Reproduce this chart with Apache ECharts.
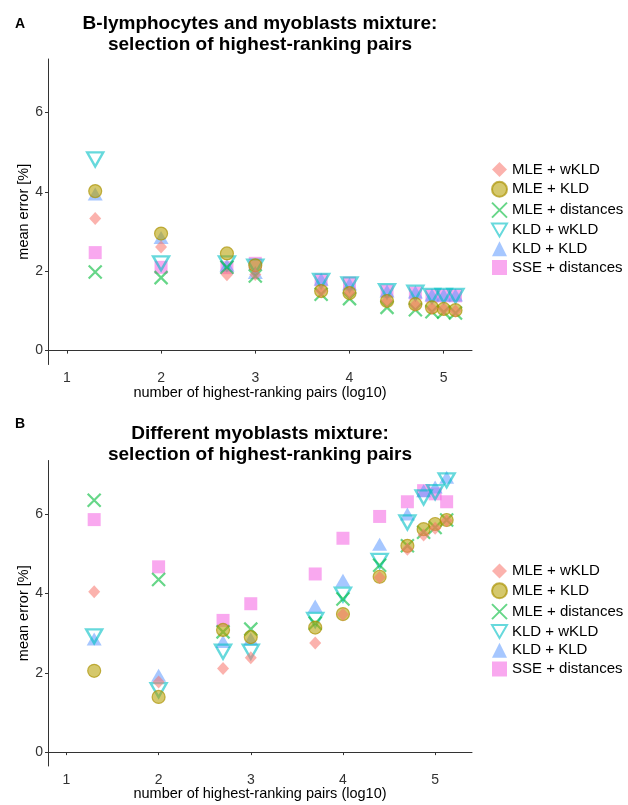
<!DOCTYPE html>
<html>
<head>
<meta charset="utf-8">
<script src="https://cdn.jsdelivr.net/npm/echarts@6/dist/echarts.min.js"></script>
<style>
html,body{margin:0;padding:0;background:#fff;}
#chart{width:628px;height:805px;}
</style>
</head>
<body>
<div id="chart"></div>
<script>
// ---- data ----
const seriesNames = ['MLE + wKLD', 'MLE + KLD', 'MLE + distances', 'KLD + wKLD', 'KLD + KLD', 'SSE + distances'];
const xVals = [1.301, 2, 2.699, 3, 3.699, 4, 4.398, 4.699, 4.875, 5, 5.125];
const xTicks = [1, 2, 3, 4, 5];
const yTicks = [0, 2, 4, 6];

// Panel A: B-lymphocytes and myoblasts mixture
const aMLEwKLD   = [3.33, 2.61, 1.91, 1.92, 1.50, 1.46, 1.25, 1.15, 1.07, 1.05, 1.00];
const aMLEKLD    = [4.02, 2.95, 2.45, 2.15, 1.50, 1.45, 1.25, 1.17, 1.09, 1.05, 1.02];
const aMLEdist   = [1.98, 1.84, 2.10, 1.88, 1.42, 1.31, 1.09, 1.03, 0.98, 0.97, 0.95];
const aKLDwKLD   = [4.82, 2.20, 2.20, 2.12, 1.76, 1.67, 1.50, 1.46, 1.38, 1.38, 1.38];
const aKLDKLD    = [3.95, 2.85, 2.15, 1.97, 1.80, 1.68, 1.50, 1.48, 1.40, 1.40, 1.40];
const aSSEdist   = [2.47, 2.10, 2.09, 2.20, 1.78, 1.70, 1.50, 1.45, 1.38, 1.38, 1.38];

// Panel B: Different myoblasts mixture
const bMLEwKLD   = [4.04, 1.77, 2.11, 2.38, 2.75, 3.47, 4.40, 5.11, 5.47, 5.64, 5.83];
const bMLEKLD    = [2.05, 1.39, 3.08, 2.90, 3.14, 3.48, 4.42, 5.20, 5.62, 5.75, 5.85];
const bMLEdist   = [6.35, 4.35, 3.03, 3.10, 3.25, 3.86, 4.71, 5.20, 5.54, 5.66, 5.85];
const bKLDwKLD   = [2.92, 1.56, 2.53, 2.53, 3.33, 3.97, 4.82, 5.79, 6.42, 6.55, 6.85];
const bKLDKLD    = [2.85, 1.94, 2.79, 2.85, 3.68, 4.33, 5.24, 6.00, 6.59, 6.68, 6.93];
const bSSEdist   = [5.86, 4.67, 3.32, 3.74, 4.49, 5.39, 5.94, 6.31, 6.59, 6.51, 6.31];

const titleA = 'B-lymphocytes and myoblasts mixture:\nselection of highest-ranking pairs';
const titleB = 'Different myoblasts mixture:\nselection of highest-ranking pairs';
const xName = 'number of highest-ranking pairs (log10)';
const yName = 'mean error [%]';

// ---- styles ----
const FONT = '"Liberation Sans", Arial, sans-serif';
const styles = {
  'MLE + wKLD':      {symbol: 'diamond', size: [12, 13], itemStyle: {color: 'rgba(248,118,109,0.7)'}},
  'MLE + KLD':       {symbol: 'circle', size: 13, itemStyle: {color: 'rgba(183,159,0,0.72)', borderColor: 'rgba(170,145,0,0.85)', borderWidth: 1.2}},
  'MLE + distances': {symbol: 'path://M0,0L10,10M10,0L0,10', size: 13, itemStyle: {color: 'rgba(0,0,0,0)', borderColor: 'rgba(0,186,56,0.75)', borderWidth: 2.2}},
  'KLD + wKLD':      {symbol: 'path://M0,0L20,0L10,17.3Z', size: [16, 14], itemStyle: {color: 'rgba(0,0,0,0)', borderColor: 'rgba(0,191,196,0.75)', borderWidth: 2.4}},
  'KLD + KLD':       {symbol: 'triangle', size: [15, 13], itemStyle: {color: 'rgba(97,156,255,0.7)'}},
  'SSE + distances': {symbol: 'rect', size: 13, itemStyle: {color: 'rgba(245,100,227,0.7)'}}
};
const drawOrder = ['SSE + distances', 'KLD + KLD', 'KLD + wKLD', 'MLE + distances', 'MLE + KLD', 'MLE + wKLD'];

const panelA = {'MLE + wKLD': aMLEwKLD, 'MLE + KLD': aMLEKLD, 'MLE + distances': aMLEdist,
  'KLD + wKLD': aKLDwKLD, 'KLD + KLD': aKLDKLD, 'SSE + distances': aSSEdist};
const panelB = {'MLE + wKLD': bMLEwKLD, 'MLE + KLD': bMLEKLD, 'MLE + distances': bMLEdist,
  'KLD + wKLD': bKLDwKLD, 'KLD + KLD': bKLDKLD, 'SSE + distances': bSSEdist};

function makeSeries(panel, idx) {
  return drawOrder.map(name => ({
    type: 'scatter',
    name: name,
    xAxisIndex: idx,
    yAxisIndex: idx,
    symbol: styles[name].symbol,
    symbolSize: styles[name].size,
    itemStyle: styles[name].itemStyle,
    emphasis: {disabled: true},
    data: xVals.map((x, i) => [x, panel[name][i]])
  }));
}

function makeX(idx, max) {
  return {
    type: 'value', gridIndex: idx, min: 0.8, max: max,
    splitLine: {show: false},
    axisLine: {lineStyle: {color: '#333', width: 1}},
    axisTick: {show: true, length: 3, customValues: xTicks, lineStyle: {color: '#333'}},
    axisLabel: {customValues: xTicks, color: '#333', fontSize: 14, fontFamily: FONT, margin: 7},
    name: xName, nameLocation: 'middle', nameGap: 20.5, nameMoveOverlap: false,
    nameTextStyle: {color: '#000', fontSize: 14.5, fontFamily: FONT}
  };
}
function makeY(idx) {
  return {
    type: 'value', gridIndex: idx, min: -0.35, max: 7.35,
    splitLine: {show: false},
    axisLine: {show: true, lineStyle: {color: '#333', width: 1}},
    axisTick: {show: true, length: 3, customValues: yTicks, lineStyle: {color: '#333'}},
    axisLabel: {customValues: yTicks, color: '#333', fontSize: 14, fontFamily: FONT, margin: 5},
    name: yName, nameLocation: 'middle', nameGap: 17, nameRotate: 90, nameMoveOverlap: false,
    nameTextStyle: {color: '#000', fontSize: 14.5, fontFamily: FONT}
  };
}
function makeLegend(top) {
  return {
    data: seriesNames, orient: 'vertical', left: 491, top: top, padding: 0,
    itemWidth: 15, itemHeight: 15, itemGap: 3.8, selectedMode: false,
    textStyle: {color: '#000', fontSize: 15, fontFamily: FONT}
  };
}

const option = {
  animation: false,
  backgroundColor: '#fff',
  title: [
    {text: 'A', left: 15, top: 17, padding: 0, textStyle: {fontSize: 14, fontWeight: 'bold', color: '#000', fontFamily: FONT}},
    {text: titleA, left: 260, top: 13, padding: 0, textAlign: 'center',
     textStyle: {fontSize: 19, fontWeight: 'bold', color: '#000', lineHeight: 21.5, fontFamily: FONT}},
    {text: 'B', left: 15, top: 417, padding: 0, textStyle: {fontSize: 14, fontWeight: 'bold', color: '#000', fontFamily: FONT}},
    {text: titleB, left: 260, top: 423, padding: 0, textAlign: 'center',
     textStyle: {fontSize: 19, fontWeight: 'bold', color: '#000', lineHeight: 21.5, fontFamily: FONT}}
  ],
  legend: [makeLegend(162), makeLegend(563.5)],
  grid: [
    {left: 48, top: 59, width: 424, height: 305.5},
    {left: 48, top: 460.5, width: 424, height: 305.5}
  ],
  xAxis: [makeX(0, 5.3), makeX(1, 5.4)],
  yAxis: [makeY(0), makeY(1)],
  series: makeSeries(panelA, 0).concat(makeSeries(panelB, 1))
};

const chart = echarts.init(document.getElementById('chart'), null, {renderer: 'canvas'});
chart.setOption(option);
</script>
</body>
</html>
